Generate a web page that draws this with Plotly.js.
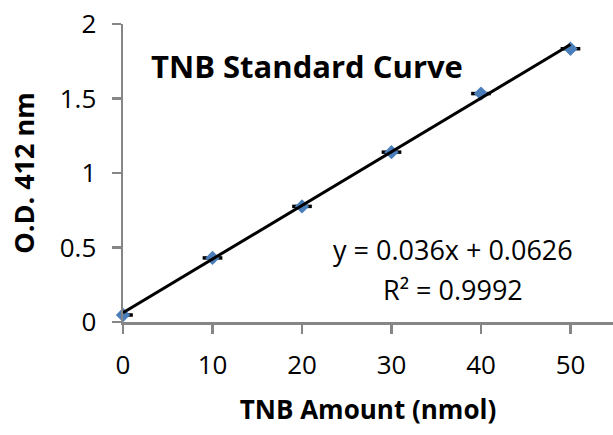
<!DOCTYPE html>
<html>
<head>
<meta charset="utf-8">
<script src="https://cdn.plot.ly/plotly-3.0.1.min.js"></script>
<style>html,body{margin:0;padding:0;background:#fff;}#chart{width:613px;height:435px;}</style>
</head>
<body>
<div id="chart"></div>
<script>
// Data
const tnbAmount = [0, 10, 20, 30, 40, 50];
const odValues = [0.047, 0.43, 0.776, 1.14, 1.533, 1.834];
const xErr = [1.1, 1.1, 1.1, 1.1, 1.1, 1.1];
const trendSlope = 0.036;
const trendIntercept = 0.0626;
const trendX = [0, 50];
const xTicks = [0, 10, 20, 30, 40, 50];
const yTicks = [0, 0.5, 1, 1.5, 2];
const yTickLabels = ['0', '0.5', '1', '1.5', '2'];
const chartTitle = 'TNB Standard Curve';
const eqText = 'y = 0.036x + 0.0626';
const r2Text = 'R² = 0.9992';

const trendY = trendX.map(x => trendSlope * x + trendIntercept);
const FONT = '"Open Sans", sans-serif';

const traces = [
  {
    x: tnbAmount, y: odValues, type: 'scatter', mode: 'markers',
    marker: {symbol: 'diamond', size: 11, color: '#4a7ebb'},
    error_x: {type: 'data', array: xErr, visible: true, color: '#000', thickness: 3.5, width: 0},
    cliponaxis: false, hoverinfo: 'none'
  },
  {
    x: trendX, y: trendY, type: 'scatter', mode: 'lines',
    line: {color: '#000', width: 3}, cliponaxis: false, hoverinfo: 'none'
  }
];

const layout = {
  width: 613, height: 435,
  margin: {l: 123, r: 0, t: 24, b: 113},
  paper_bgcolor: '#fff', plot_bgcolor: '#fff',
  showlegend: false,
  font: {family: FONT, color: '#000', size: 24},
  xaxis: {
    range: [0, 54.75], tickvals: xTicks, ticktext: xTicks.map(String),
    showgrid: false, zeroline: false, showline: true, linecolor: '#868686', linewidth: 2.5,
    ticks: 'outside', ticklen: 9, tickwidth: 2.5, tickcolor: '#868686',
    ticklabelstandoff: 9,
    tickfont: {family: FONT, size: 26, color: '#000'},
    title: {text: '<b>TNB Amount (nmol)</b>', font: {family: FONT, size: 26, color: '#000'}, standoff: 20}
  },
  yaxis: {
    range: [0, 2], tickvals: yTicks, ticktext: yTickLabels,
    showgrid: false, zeroline: false, showline: true, linecolor: '#868686', linewidth: 2.5,
    ticks: 'outside', ticklen: 9, tickwidth: 2.5, tickcolor: '#868686',
    ticklabelstandoff: 10,
    tickfont: {family: FONT, size: 26, color: '#000'},
    title: {text: '<b>O.D. 412 nm</b>', font: {family: FONT, size: 27, color: '#000'}, standoff: 18}
  },
  annotations: [
    {text: '<b>' + chartTitle + '</b>', xref: 'paper', yref: 'paper', x: 0.375, y: 0.86,
     xanchor: 'center', yanchor: 'middle',
     showarrow: false, font: {family: FONT, size: 31, color: '#000'}},
    {text: eqText, xref: 'paper', yref: 'paper', x: 0.673, y: 0.242,
     xanchor: 'center', yanchor: 'middle',
     showarrow: false, font: {family: FONT, size: 27, color: '#000'}},
    {text: r2Text, xref: 'paper', yref: 'paper', x: 0.673, y: 0.11,
     xanchor: 'center', yanchor: 'middle',
     showarrow: false, font: {family: FONT, size: 27, color: '#000'}}
  ]
};

Plotly.newPlot('chart', traces, layout, {displayModeBar: false, staticPlot: true});
</script>
</body>
</html>
